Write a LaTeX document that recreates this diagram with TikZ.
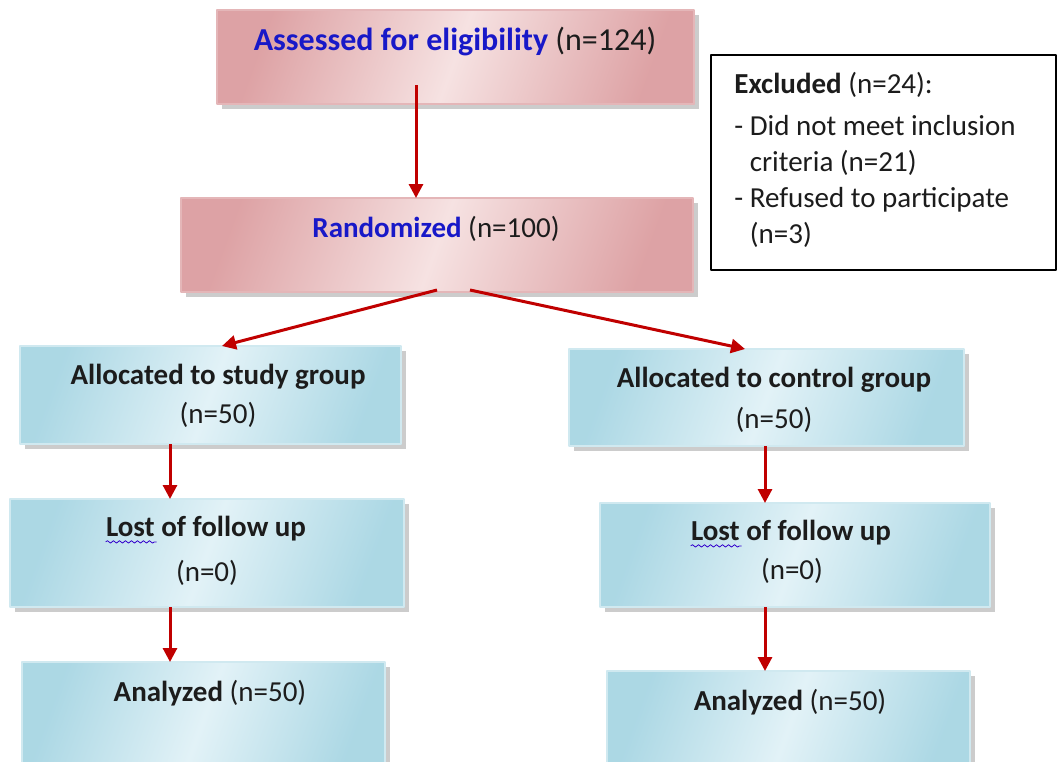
\documentclass[tikz,border=0pt]{standalone}
\usepackage{fontspec}
\setmainfont{Carlito}
\usetikzlibrary{arrows.meta,shadows,decorations.pathmorphing}
\definecolor{pinkD}{HTML}{D9979A}
\definecolor{pinkL}{HTML}{F6E2E2}
\definecolor{blueD}{HTML}{A2D3E1}
\definecolor{blueL}{HTML}{E2F2F7}
\definecolor{arrred}{HTML}{C00000}
\definecolor{headblue}{HTML}{1818C8}
\definecolor{txtdark}{HTML}{1C1C1C}
\begin{document}
\begin{tikzpicture}[x=0.5pt, y=-0.5pt, font=\fontsize{14.5}{18}\selectfont, line join=round, >={Triangle[length=7pt,width=7pt]},
  pinkbox/.style={draw=pinkD!70!white, line width=.6pt, inner sep=0pt, outer sep=0pt,
    left color=pinkD!85!pinkL, right color=pinkD!85!pinkL, middle color=pinkL, shading angle=70,
    drop shadow={shadow xshift=2.5pt, shadow yshift=-2.5pt, fill=gray!80, opacity=.5}},
  bluebox/.style={draw=blueD!50!white, line width=.6pt, inner sep=0pt, outer sep=0pt,
    left color=blueD!85!blueL, right color=blueD!85!blueL, middle color=blueL, shading angle=70,
    drop shadow={shadow xshift=2.5pt, shadow yshift=-2.5pt, fill=gray!80, opacity=.5}},
  txt/.style={inner sep=0pt, text=txtdark, align=center},
  arr/.style={->, draw=arrred, line width=1.5pt, color=arrred},
  squig/.style={draw=blue!60!violet, line width=.4pt, decorate, decoration={snake, amplitude=.6pt, segment length=3pt}}]
\useasboundingbox (0,0) rectangle (1058,761);
% boxes
\node[pinkbox, minimum width=238.5pt, minimum height=47pt] (assess) at (455.5,57) {};
\node[pinkbox, minimum width=256pt, minimum height=47pt] (rand) at (437,245) {};
\node[draw=black, line width=1pt, fill=white, minimum width=172.5pt, minimum height=107.5pt, inner sep=0pt] (excl) at (883.5,162.5) {};
\node[bluebox, minimum width=190.5pt, minimum height=49pt] (studyA) at (210.5,395) {};
\node[bluebox, minimum width=197.5pt, minimum height=48.5pt] (ctrlA) at (766.5,397.5) {};
\node[bluebox, minimum width=197pt, minimum height=54pt] (lostL) at (207,553) {};
\node[bluebox, minimum width=195pt, minimum height=52pt] (lostR) at (795,555) {};
\node[bluebox, minimum width=181.5pt, minimum height=56.5pt] (anaL) at (203.5,718.5) {};
\node[bluebox, minimum width=181.5pt, minimum height=57pt] (anaR) at (788.5,728) {};
% texts
\node[txt, font=\fontsize{16}{19}\selectfont] (assessT) at (455,42) {\textcolor{headblue}{\bfseries Assessed for eligibility} (n=124)};
\node[txt] (randT) at (436,229) {\textcolor{headblue}{\bfseries Randomized} (n=100)};
\node[txt, anchor=north west, align=left] (exclT) at (734,72) {\textbf{Excluded} (n=24):\\[3pt]
  - Did not meet inclusion\\ \phantom{- }criteria (n=21)\\ - Refused to participate\\ \phantom{- }(n=3)};
\node[txt] (studyT) at (218,377) {\textbf{Allocated to study group}};
\node[txt] (studyN) at (218,415) {(n=50)};
\node[txt] (ctrlT) at (774,380) {\textbf{Allocated to control group}};
\node[txt] (ctrlN) at (774,420) {(n=50)};
\node[txt] (lostLT) at (206,529) {\textbf{Lost of follow up}};
\node[txt] (lostLN) at (207,573) {(n=0)};
\node[txt] (lostRT) at (791,533) {\textbf{Lost of follow up}};
\node[txt] (lostRN) at (792,571) {(n=0)};
\node[txt] (anaLT) at (210,693) {\textbf{Analyzed} (n=50)};
\node[txt] (anaRT) at (790,702) {\textbf{Analyzed} (n=50)};
\draw[squig] ([yshift=-2.5pt]lostLT.base west) -- ++(51,0);
\draw[squig] ([yshift=-2.5pt]lostRT.base west) -- ++(51,0);
% arrows
\coordinate (a1) at (416,85);
\coordinate (r1) at (437,290);
\coordinate (r2) at (470,290);
\draw[arr] (a1) -- (a1 |- rand.north);
\draw[arr] (r1) -- (222,0 |- studyA.north);
\draw[arr] (r2) -- (745,0 |- ctrlA.north);
\draw[arr] (170,0 |- studyA.south) -- (170,0 |- lostL.north);
\draw[arr] (765,0 |- ctrlA.south) -- (765,0 |- lostR.north);
\draw[arr] (170,0 |- lostL.south) -- (170,0 |- anaL.north);
\draw[arr] (765,0 |- lostR.south) -- (765,0 |- anaR.north);
\end{tikzpicture}
\end{document}
